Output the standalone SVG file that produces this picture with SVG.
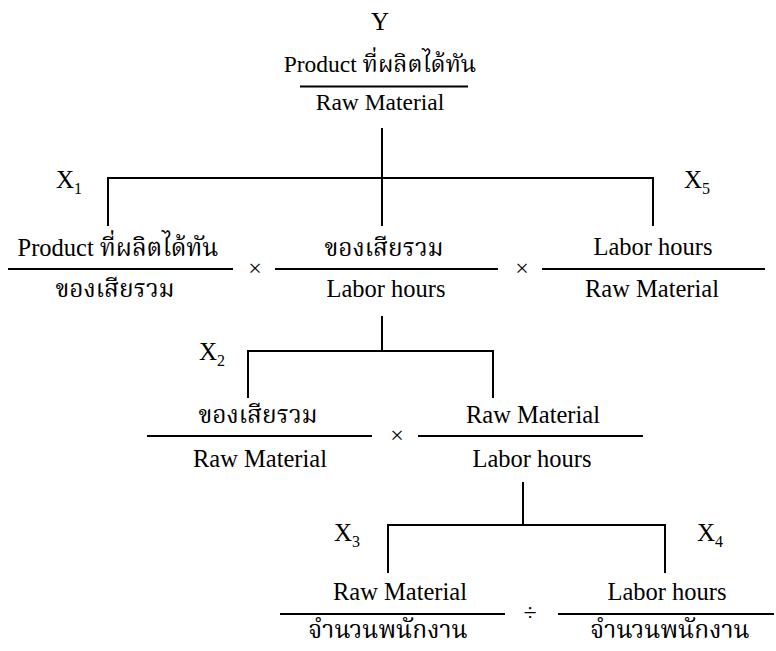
<svg xmlns="http://www.w3.org/2000/svg" width="776" height="651" viewBox="0 0 776 651">
  <style>
    .t { font-family: "Liberation Serif", "Times New Roman", serif; font-size: 24.5px; fill: #000; text-anchor: middle; }
    .top { font-size: 23.5px; }
    .th { font-family: "Noto Serif Thai", "Noto Sans Thai", "Liberation Serif", serif; }
    .x { font-family: "Liberation Serif", "Times New Roman", serif; font-size: 25px; fill: #000; }
    .sub { font-size: 16px; }
    .op { font-family: "Liberation Serif", serif; font-size: 24px; fill: #000; text-anchor: middle; }
    .ln { stroke: #000; stroke-width: 2; fill: none; }
  </style>
  <rect width="776" height="651" fill="#fff"/>

  <!-- tree connectors -->
  <g id="connectors" class="ln">
    <path d="M382 128 V226 M108 226 V178 H653 V226"/>
    <path d="M382 316 V351 M248 398 V351 H493 V398"/>
    <path d="M523 482 V525 M388 573 V525 H665 V573"/>
  </g>

  <!-- Y : top ratio -->
  <g id="node-y">
    <text class="x" x="380" y="30" text-anchor="middle">Y</text>
    <text class="t top" x="380" y="72">Product <tspan class="th">ที่ผลิตได้ทัน</tspan></text>
    <line class="ln" x1="300" y1="86.5" x2="468" y2="86.5"/>
    <text class="t top" x="380" y="110">Raw Material</text>
  </g>

  <!-- X1 -->
  <g id="node-x1">
    <text class="x" x="56" y="188">X<tspan class="sub" dy="6">1</tspan></text>
    <text class="t" x="118" y="256">Product <tspan class="th">ที่ผลิตได้ทัน</tspan></text>
    <line class="ln" x1="8" y1="269" x2="233" y2="269"/>
    <text class="t th" x="115" y="297">ของเสียรวม</text>
  </g>
  <text class="op" x="255" y="276">×</text>

  <!-- middle factor -->
  <g id="node-mid1">
    <text class="t th" x="384" y="256">ของเสียรวม</text>
    <line class="ln" x1="275" y1="269" x2="498" y2="269"/>
    <text class="t" x="386" y="297">Labor hours</text>
  </g>
  <text class="op" x="522" y="276">×</text>

  <!-- X5 -->
  <g id="node-x5">
    <text class="x" x="684" y="188">X<tspan class="sub" dy="6">5</tspan></text>
    <text class="t" x="653" y="255">Labor hours</text>
    <line class="ln" x1="542" y1="269" x2="765" y2="269"/>
    <text class="t" x="652" y="297">Raw Material</text>
  </g>

  <!-- X2 -->
  <g id="node-x2">
    <text class="x" x="199" y="360">X<tspan class="sub" dy="6">2</tspan></text>
    <text class="t th" x="258" y="423">ของเสียรวม</text>
    <line class="ln" x1="147" y1="436" x2="372" y2="436"/>
    <text class="t" x="260" y="467">Raw Material</text>
  </g>
  <text class="op" x="397" y="443">×</text>

  <g id="node-mid2">
    <text class="t" x="533" y="423">Raw Material</text>
    <line class="ln" x1="418" y1="436" x2="643" y2="436"/>
    <text class="t" x="532" y="467">Labor hours</text>
  </g>

  <!-- X3 -->
  <g id="node-x3">
    <text class="x" x="334" y="541">X<tspan class="sub" dy="6">3</tspan></text>
    <text class="t" x="400" y="600">Raw Material</text>
    <line class="ln" x1="280" y1="614" x2="505" y2="614"/>
    <text class="t th" x="388" y="638">จำนวนพนักงาน</text>
  </g>
  <text class="op" x="530" y="620">÷</text>

  <!-- X4 -->
  <g id="node-x4">
    <text class="x" x="697" y="541">X<tspan class="sub" dy="6">4</tspan></text>
    <text class="t" x="667" y="600">Labor hours</text>
    <line class="ln" x1="558" y1="614" x2="774" y2="614"/>
    <text class="t th" x="670" y="638">จำนวนพนักงาน</text>
  </g>
</svg>
